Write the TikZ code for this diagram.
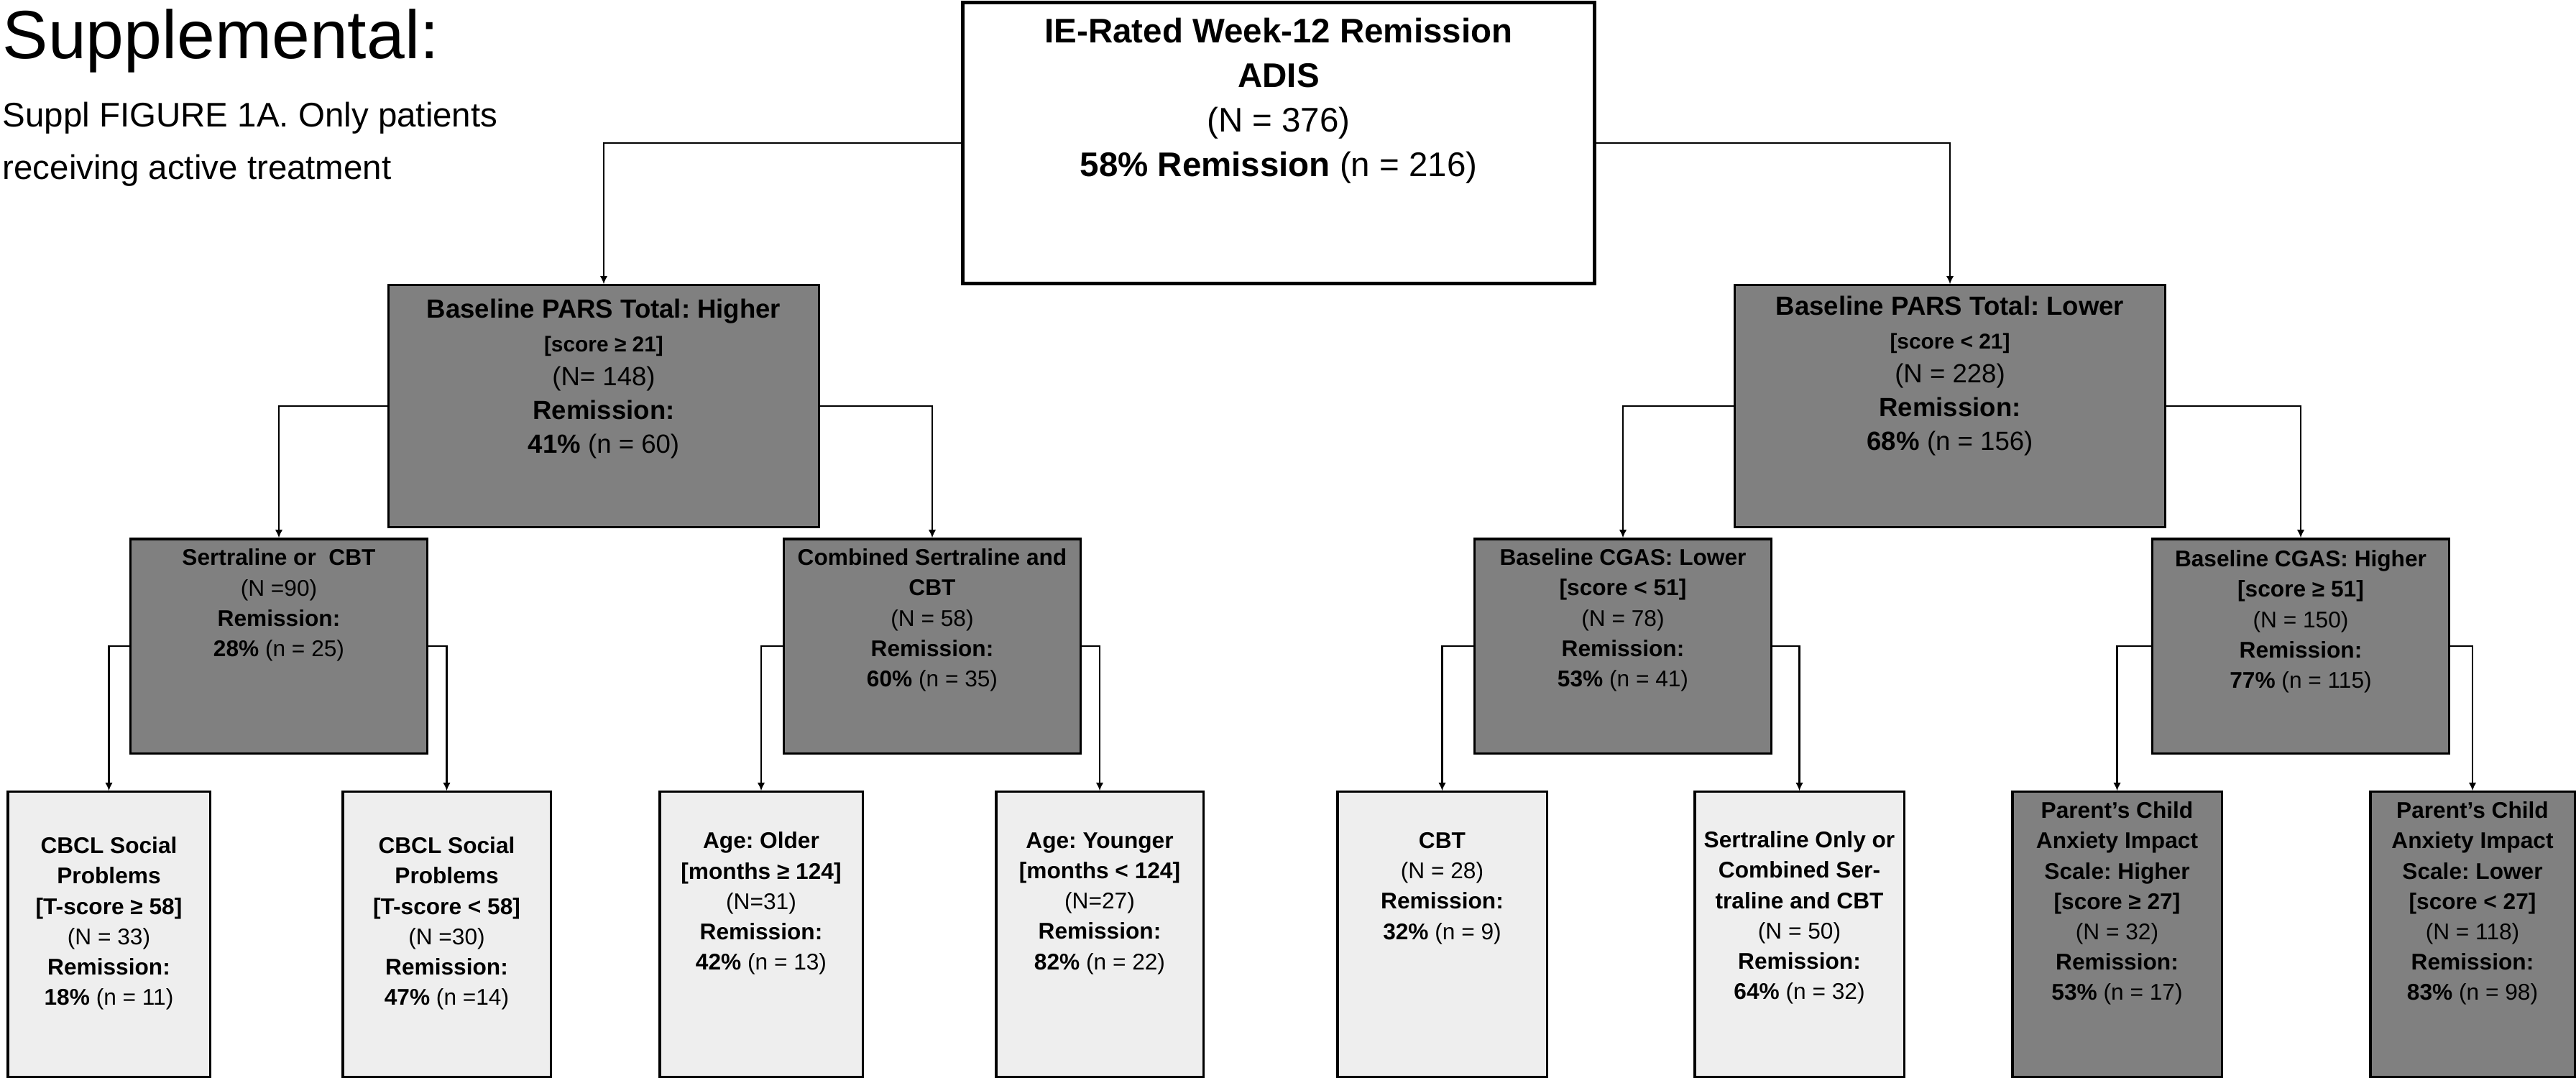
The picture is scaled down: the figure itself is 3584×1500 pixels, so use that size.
\documentclass[tikz,border=0pt]{standalone}
\usepackage{fontspec}
\setmainfont{Liberation Sans}
\usepackage{tikz}
\usetikzlibrary{arrows}
\usetikzlibrary{arrows.meta}
\usetikzlibrary{positioning}
\definecolor{darkbox}{HTML}{808080}
\definecolor{lightbox}{HTML}{EEEEEE}
\frenchspacing

\begin{document}
\begin{tikzpicture}[>={Latex[length=3.2pt,width=3pt]}, x=0.01cm, y=-0.01cm]
  \tikzset{box/.style={draw, line width=0.9pt, inner sep=0pt, minimum width=4.12cm, minimum height=2.98cm},
           dark/.style={box, fill=darkbox},
           light/.style={box, fill=lightbox, minimum height=3.96cm},
           txt/.style={align=center, inner sep=0pt, font=\fontsize{9}{12}\selectfont},
           link/.style={->, line width=0.6pt}}
  \useasboundingbox (0,0) rectangle (3584,1500);

  \node[anchor=base west, inner sep=0pt, font=\fontsize{27}{32}\selectfont] (title) at (3,82) {Supplemental:};
  \node[anchor=west, inner sep=0pt, align=left, font=\fontsize{13.5}{20.8}\selectfont] (caption) at (3,201)
    {Suppl FIGURE 1A. Only patients\\receiving active treatment};

  % root of the tree
  \node[box, line width=1.4pt, fill=white, minimum width=8.78cm, minimum height=3.9cm] (root) at (1779,199) {};
  \node[txt, font=\fontsize{13.5}{17.6}\selectfont] (rootT) at (1779,140)
    {\textbf{IE-Rated Week-12 Remission}\\\textbf{ADIS}\\(N = 376)\\\textbf{58\% Remission} (n = 216)};

  % first split
  \node[dark, minimum width=5.98cm, minimum height=3.36cm] (parsHi) at (840,565) {};
  \node[dark, minimum width=5.98cm, minimum height=3.36cm] (parsLo) at (2713,565) {};
  \node[txt, font=\fontsize{10.4}{13.4}\selectfont] (parsHiT) at (840,527)
    {\textbf{Baseline PARS Total: Higher}\\{\fontsize{8.5}{10}\selectfont\bfseries [score ≥ 21]}\\(N= 148)\\\textbf{Remission:}\\\textbf{41\%} (n = 60)};
  \node[txt, font=\fontsize{10.4}{13.4}\selectfont] (parsLoT) at (2713,523)
    {\textbf{Baseline PARS Total: Lower}\\{\fontsize{8.5}{10}\selectfont\bfseries [score < 21]}\\(N = 228)\\\textbf{Remission:}\\\textbf{68\%} (n = 156)};

  % second split
  \node[dark] (sertOr) at (388,899)  {};
  \node[dark] (comb)   at (1297,899) {};
  \node[dark] (cgasLo) at (2258,899) {};
  \node[dark] (cgasHi) at (3201,899) {};
  \node[txt] (sertOrT) at (388,842)  {\textbf{Sertraline or~ CBT}\\(N =90)\\\textbf{Remission:}\\\textbf{28\%} (n = 25)};
  \node[txt] (combT)   at (1297,863) {\textbf{Combined Sertraline and}\\\textbf{CBT}\\(N = 58)\\\textbf{Remission:}\\\textbf{60\%} (n = 35)};
  \node[txt] (cgasLoT) at (2258,863) {\textbf{Baseline CGAS: Lower}\\\textbf{[score < 51]}\\(N = 78)\\\textbf{Remission:}\\\textbf{53\%} (n = 41)};
  \node[txt] (cgasHiT) at (3201,865) {\textbf{Baseline CGAS: Higher}\\\textbf{[score ≥ 51]}\\(N = 150)\\\textbf{Remission:}\\\textbf{77\%} (n = 115)};

  % leaves
  \node[light, minimum width=2.81cm] (cbclHi)   at (151.5,1300)  {};
  \node[light, minimum width=2.89cm] (cbclLo)   at (621.5,1300)  {};
  \node[light, minimum width=2.82cm] (ageOld)   at (1059,1300)   {};
  \node[light, minimum width=2.88cm] (ageYoung) at (1530,1300)   {};
  \node[light, minimum width=2.91cm] (cbt)      at (2006.5,1300) {};
  \node[light, minimum width=2.91cm] (sertOnly) at (2503.5,1300) {};
  \node[light, fill=darkbox, minimum width=2.91cm] (pcaisHi) at (2945.5,1300) {};
  \node[light, fill=darkbox, minimum width=2.84cm] (pcaisLo) at (3440,1300)   {};
  \node[txt] (cbclHiT)   at (151.5,1285)  {\textbf{CBCL Social}\\\textbf{Problems}\\\textbf{[T-score ≥ 58]}\\(N = 33)\\\textbf{Remission:}\\\textbf{18\%} (n = 11)};
  \node[txt] (cbclLoT)   at (621.5,1285)  {\textbf{CBCL Social}\\\textbf{Problems}\\\textbf{[T-score < 58]}\\(N =30)\\\textbf{Remission:}\\\textbf{47\%} (n =14)};
  \node[txt] (ageOldT)   at (1059,1257)   {\textbf{Age: Older}\\\textbf{[months ≥ 124]}\\(N=31)\\\textbf{Remission:}\\\textbf{42\%} (n = 13)};
  \node[txt] (ageYoungT) at (1530,1257)   {\textbf{Age: Younger}\\\textbf{[months < 124]}\\(N=27)\\\textbf{Remission:}\\\textbf{82\%} (n = 22)};
  \node[txt] (cbtT)      at (2006.5,1236) {\textbf{CBT}\\(N = 28)\\\textbf{Remission:}\\\textbf{32\%} (n = 9)};
  \node[txt] (sertOnlyT) at (2503.5,1277) {\textbf{Sertraline Only or}\\\textbf{Combined Ser-}\\\textbf{traline and CBT}\\(N = 50)\\\textbf{Remission:}\\\textbf{64\%} (n = 32)};
  \node[txt] (pcaisHiT)  at (2945.5,1257) {\textbf{Parent’s Child}\\\textbf{Anxiety Impact}\\\textbf{Scale: Higher}\\\textbf{[score ≥ 27]}\\(N = 32)\\\textbf{Remission:}\\\textbf{53\%} (n = 17)};
  \node[txt] (pcaisLoT)  at (3440,1257)   {\textbf{Parent’s Child}\\\textbf{Anxiety Impact}\\\textbf{Scale: Lower}\\\textbf{[score < 27]}\\(N = 118)\\\textbf{Remission:}\\\textbf{83\%} (n = 98)};

  % elbow connectors, parent side -> child top
  \draw[link] (root.west)   -| (parsHi.north);
  \draw[link] (root.east)   -| (parsLo.north);
  \draw[link] (parsHi.west) -| (sertOr.north);
  \draw[link] (parsHi.east) -| (comb.north);
  \draw[link] (parsLo.west) -| (cgasLo.north);
  \draw[link] (parsLo.east) -| (cgasHi.north);
  \draw[link] (sertOr.west) -| (cbclHi.north);
  \draw[link] (sertOr.east) -| (cbclLo.north);
  \draw[link] (comb.west)   -| (ageOld.north);
  \draw[link] (comb.east)   -| (ageYoung.north);
  \draw[link] (cgasLo.west) -| (cbt.north);
  \draw[link] (cgasLo.east) -| (sertOnly.north);
  \draw[link] (cgasHi.west) -| (pcaisHi.north);
  \draw[link] (cgasHi.east) -| (pcaisLo.north);
\end{tikzpicture}
\end{document}
